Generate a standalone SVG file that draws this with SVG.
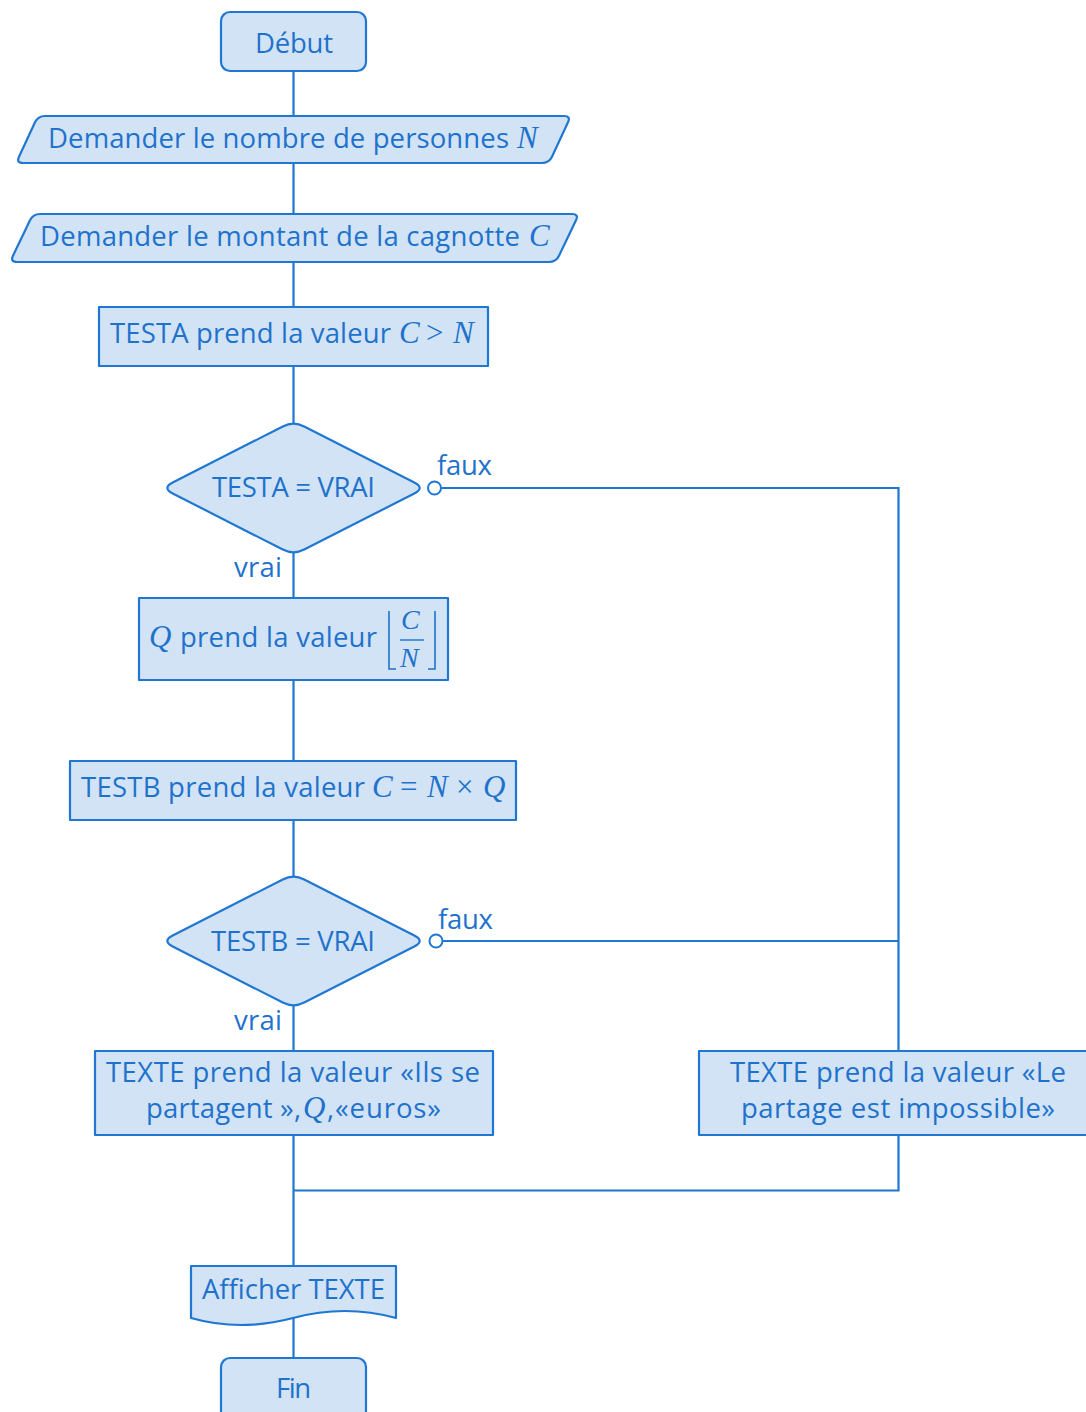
<svg xmlns="http://www.w3.org/2000/svg" width="1086" height="1412" viewBox="0 0 1086 1412">
<style>
.shape{fill:#D1E3F5;stroke:#1F77D2;stroke-width:2.2;stroke-linejoin:round}
.conn{fill:none;stroke:#1F77D2;stroke-width:2.2}
.dot{fill:#ffffff;stroke:#1F77D2;stroke-width:2}
text{font-family:"Open Sans","Noto Sans","DejaVu Sans",sans-serif;font-size:27.5px;font-weight:500;fill:#1F72CC}
.m{font-family:"Liberation Serif","DejaVu Serif",serif;font-style:italic;font-weight:400;font-size:31px}
.mu{font-family:"Liberation Serif","DejaVu Serif",serif;font-style:normal;font-weight:400;font-size:31px}
.fr{font-family:"Liberation Serif","DejaVu Serif",serif;font-style:italic;font-weight:400;font-size:28px}
.br{fill:none;stroke:#1F72CC;stroke-width:1.6}
</style>
<defs>
<path id="diamond" d="M 172.7,482.55 L 282.8,426.45 Q 293.5,421 304.2,426.45 L 414.3,482.55 Q 425,488 414.3,493.45 L 304.2,549.55 Q 293.5,555 282.8,549.55 L 172.7,493.45 Q 162,488 172.7,482.55 Z"/>
</defs>
<g id="connectors">
<path class="conn" d="M293.5,71 V116 M293.5,163 V214 M293.5,262 V307 M293.5,366 V424 M293.5,552 V598 M293.5,680 V761 M293.5,820 V878 M293.5,1005 V1051 M293.5,1135 V1266 M293.5,1318 V1358"/>
<path class="conn" d="M441.5,488 H898.5 V1051"/>
<path class="conn" d="M443,941 H898.5"/>
<path class="conn" d="M898.5,1135 V1190.5 H293.5"/>
<circle class="dot" cx="434.5" cy="488" r="6.5"/>
<circle class="dot" cx="436" cy="941" r="6.5"/>
<text x="437" y="475" textLength="55">faux</text>
<text x="234" y="577" textLength="48">vrai</text>
<text x="438" y="929" textLength="55">faux</text>
<text x="234" y="1030" textLength="48">vrai</text>
</g>
<g id="debut">
<rect class="shape" x="221" y="12" width="145" height="59" rx="9"/>
<text x="255" y="53" textLength="78">Début</text>
</g>
<g id="input-n">
<path class="shape" d="M 45,116 H 564 Q 571,116 568,122.3 L 552,156.7 Q 549,163 542,163 H 23 Q 16,163 19,156.7 L 35,122.3 Q 38,116 45,116 Z"/>
<text x="48" y="148" textLength="461">Demander le nombre de personnes</text>
<text class="m" x="517" y="148">N</text>
</g>
<g id="input-c">
<path class="shape" d="M 40,214 H 572 Q 579,214 576,220.3 L 559,255.7 Q 556,262 549,262 H 17 Q 10,262 13,255.7 L 30,220.3 Q 33,214 40,214 Z"/>
<text x="40" y="246" textLength="480">Demander le montant de la cagnotte</text>
<text class="m" x="529" y="246">C</text>
</g>
<g id="testa">
<rect class="shape" x="99" y="307" width="389" height="59"/>
<text x="110" y="343" textLength="281">TESTA prend la valeur</text>
<text class="m" x="399" y="343">C</text>
<text class="mu" x="426" y="343">&gt;</text>
<text class="m" x="453" y="343">N</text>
</g>
<g id="decision-a">
<use href="#diamond" class="shape"/>
<text x="212" y="497" textLength="163">TESTA = VRAI</text>
</g>
<g id="q-assign">
<rect class="shape" x="139" y="598" width="309" height="82"/>
<text class="m" x="149" y="647">Q</text>
<text x="180" y="647" textLength="197">prend la valeur</text>
<path class="br" d="M389,611 V669 H396 M435,611 V669 H428"/>
<text class="fr" x="401" y="629">C</text>
<line x1="400" y1="640" x2="424" y2="640" stroke="#1F72CC" stroke-width="1.4"/>
<text class="fr" x="400" y="667">N</text>
</g>
<g id="testb">
<rect class="shape" x="70" y="761" width="446" height="59"/>
<text x="81" y="797" textLength="284">TESTB prend la valeur</text>
<text class="m" x="372" y="797">C</text>
<text class="mu" x="400" y="797">=</text>
<text class="m" x="427" y="797">N</text>
<text class="mu" x="456" y="797">×</text>
<text class="m" x="483" y="797">Q</text>
</g>
<g id="decision-b">
<use href="#diamond" class="shape" transform="translate(0,453)"/>
<text x="211" y="951" textLength="164">TESTB = VRAI</text>
</g>
<g id="texte-ok">
<rect class="shape" x="95" y="1051" width="398" height="84"/>
<text x="106" y="1082" textLength="374">TEXTE prend la valeur «Ils se</text>
<text x="146" y="1118" textLength="155">partagent »,</text>
<text class="m" x="303" y="1118" font-size="28">Q</text>
<text x="327" y="1118" textLength="114">,«euros»</text>
</g>
<g id="texte-ko">
<rect class="shape" x="699" y="1051" width="398" height="84"/>
<text x="730" y="1082" textLength="336">TEXTE prend la valeur «Le</text>
<text x="741" y="1118" textLength="314">partage est impossible»</text>
</g>
<g id="afficher">
<path class="shape" d="M191,1266 H396 V1318 Q345,1304 293,1318 Q240,1332 191,1318 Z"/>
<text x="202" y="1299" textLength="183">Afficher TEXTE</text>
</g>
<g id="fin">
<rect class="shape" x="221" y="1358" width="145" height="62" rx="9"/>
<text x="276" y="1398" textLength="35">Fin</text>
</g>
</svg>
